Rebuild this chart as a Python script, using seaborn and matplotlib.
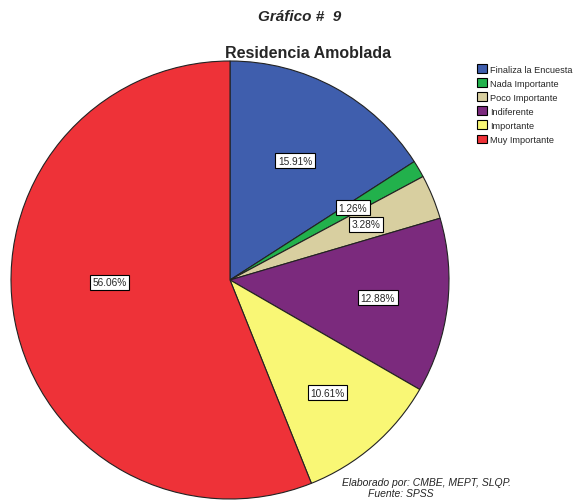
import matplotlib
matplotlib.use("Agg")
import matplotlib.pyplot as plt
import seaborn as sns
import numpy as np

categories = ["Finaliza la Encuesta", "Nada Importante", "Poco Importante",
              "Indiferente", "Importante", "Muy Importante"]
values = [15.91, 1.26, 3.28, 12.88, 10.61, 56.06]
colors = ["#3F5EAD", "#22B14C", "#D8CFA0", "#7B2A7D", "#F9F775", "#EE3238"]
label_radius = [0.62, 0.65, 0.67, 0.68, 0.68, 0.55]
label_angle_override = [None, None, None, None, None, 181.0]

sns.set_style("white")
plt.rcParams['font.family'] = ['Liberation Sans', 'DejaVu Sans']

fig = plt.figure(figsize=(5.85, 5.02), dpi=100)
ax = fig.add_axes([(230 - 219) / 585, (502 - 281 - 219) / 502, 438 / 585, 438 / 502])

wedges, _ = ax.pie(values, colors=colors, startangle=90, counterclock=False,
                   wedgeprops=dict(edgecolor="#222222", linewidth=0.8))
ax.set_xlim(-1, 1)
ax.set_ylim(-1, 1)
ax.set_aspect("equal")

for w, v, r, a in zip(wedges, values, label_radius, label_angle_override):
    deg = (w.theta1 + w.theta2) / 2 if a is None else a
    ang = np.deg2rad(deg)
    ax.text(r * np.cos(ang), r * np.sin(ang), f"{v:.2f}%", ha="center", va="center",
            fontsize=7.3, bbox=dict(boxstyle="square,pad=0.25", fc="white", ec="black", lw=0.8))

fig.text(300 / 585, 1 - 17 / 502, "Gráfico #  9", ha="center", va="center",
         fontsize=11, fontweight="bold", fontstyle="italic")
fig.text(308 / 585, 1 - 53 / 502, "Residencia Amoblada", ha="center", va="center",
         fontsize=11.5, fontweight="bold")

handles = [plt.Rectangle((0, 0), 1, 1, fc=c, ec="black", lw=0.8) for c in colors]
fig.legend(handles, categories, loc="upper left", bbox_to_anchor=(477 / 585, 1 - 65 / 502),
           frameon=False, fontsize=6.6, handlelength=1.1, handleheight=1.1,
           handletextpad=0.3, labelspacing=0.5, borderaxespad=0, borderpad=0)

fig.text(342 / 585, 1 - 483 / 502, "Elaborado por: CMBE, MEPT, SLQP.", ha="left", va="center",
         fontsize=7.5, fontstyle="italic")
fig.text(368 / 585, 1 - 494 / 502, "Fuente: SPSS", ha="left", va="center",
         fontsize=7.5, fontstyle="italic")

fig.savefig("out.png", dpi=100)
